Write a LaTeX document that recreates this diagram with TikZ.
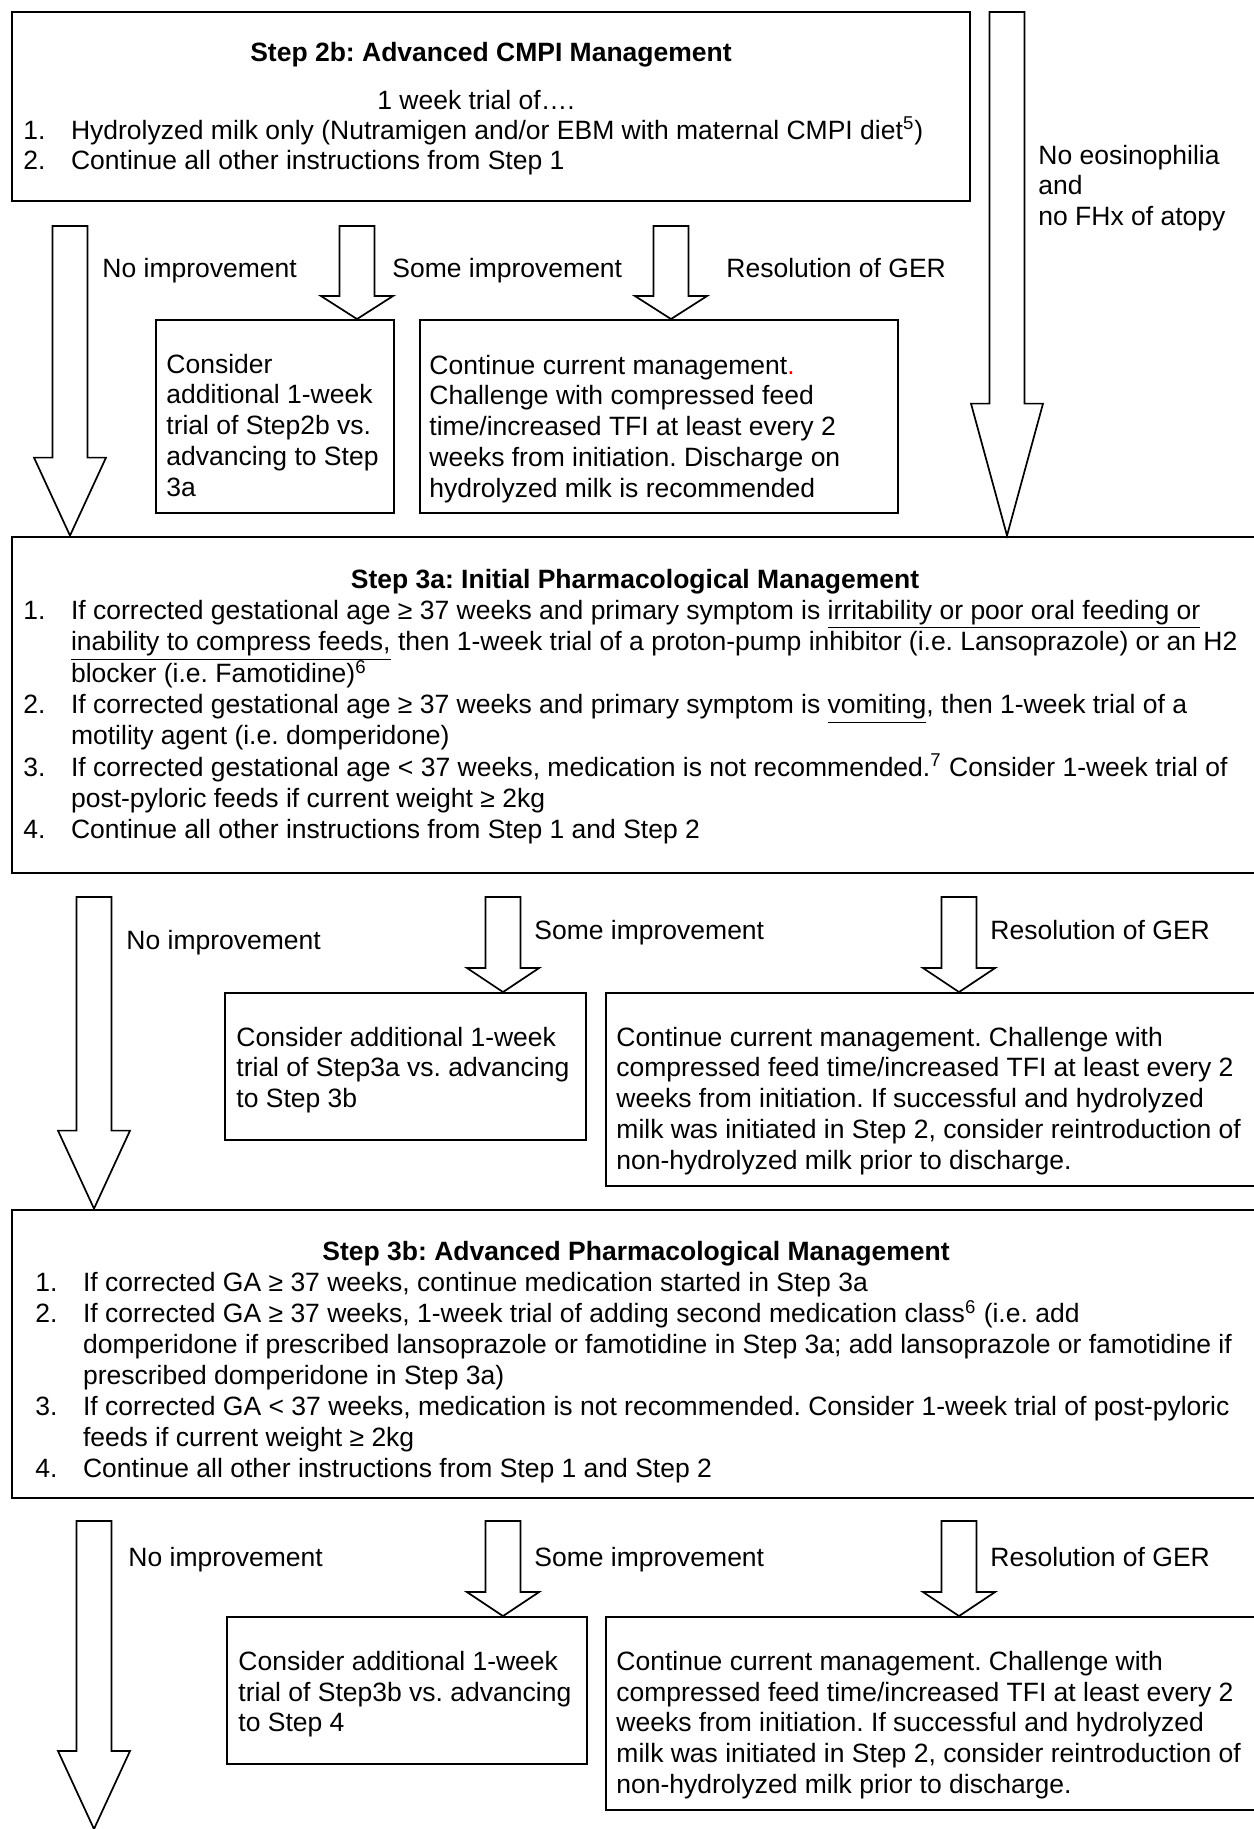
\documentclass[tikz,border=0pt]{standalone}
\usepackage{fontspec}
\setmainfont{Liberation Sans}
\usepackage{xcolor}
\usepackage{tikz}
\usetikzlibrary{calc,fit}
\frenchspacing
\newcommand{\txtlines}[1]{\begin{tabular}[t]{@{}l@{}}#1\end{tabular}}
\newcommand{\steplist}[1]{\begin{tabular}[t]{@{}p{22.3pt}@{}l@{}}#1\end{tabular}}
\newcommand{\flowarrow}[3]{%
  \draw[blockarr] ($(#1)+(-17.5,0)$) -- ($(#1)+(17.5,0)$) -- ($(#2)+(17.5,-#3)$) -- ($(#2)+(36,-#3)$)
    -- (#2) -- ($(#2)+(-36,-#3)$) -- ($(#2)+(-17.5,-#3)$) -- cycle;}
\tikzset{
  stepbox/.style={draw, line width=1.3pt, inner sep=0pt},
  optbox/.style={draw, line width=0.9pt, inner sep=0pt},
  txt/.style={inner sep=0pt, anchor=base west},
  ttl/.style={inner sep=0pt, anchor=base, font=\fontsize{12.4}{14.5}\selectfont\bfseries},
  blockarr/.style={draw, line width=0.8pt, fill=white, line join=miter},
}
\begin{document}
\begin{tikzpicture}[x=0.468pt,y=-0.468pt,font=\fontsize{12.4}{14.5}\selectfont]
\useasboundingbox (0,0) rectangle (1254,1829);
\fill[white] (0,0) rectangle (1254,1829);
\clip (0,0) rectangle (1254,1829);
% step boxes
\node[stepbox, fit={(12,12) (970,201)}] (s2b) {};
\node[stepbox, fit={(12,537) (1260,873)}] (s3a) {};
\node[stepbox, fit={(12,1210) (1260,1498)}] (s3b) {};
% outcome boxes
\node[optbox, fit={(156,320) (394,513)}] (optA) {};
\node[optbox, fit={(420,320) (898,513)}] (optB) {};
\node[optbox, fit={(225,993) (586,1140)}] (optC) {};
\node[optbox, fit={(606,993) (1262,1186)}] (optD) {};
\node[optbox, fit={(227,1617) (587,1764)}] (optE) {};
\node[optbox, fit={(606,1617) (1262,1810)}] (optF) {};

% Step 2b
\node[ttl] (t2b) at (491,61) {Step 2b: Advanced CMPI Management};
\node[txt, anchor=base] (w2b) at (476,109) {1 week trial of….};
\node[txt] (l2b) at (23,139) {\steplist{
1. & Hydrolyzed milk only (Nutramigen and/or EBM with maternal CMPI diet\textsuperscript{5})\\
2. & Continue all other instructions from Step 1}};

% Step 3a
\node[ttl] (t3a) at (635,588) {Step 3a: Initial Pharmacological Management};
\node[txt] (l3a) at (23,619) {\steplist{
1. & If corrected gestational age ≥ 37 weeks and primary symptom is \underline{irritability or poor oral feeding or}\\
   & \underline{inability to compress feeds,} then 1-week trial of a proton-pump inhibitor (i.e. Lansoprazole) or an H2\\
   & blocker (i.e. Famotidine)\textsuperscript{6}\\
2. & If corrected gestational age ≥ 37 weeks and primary symptom is \underline{vomiting}, then 1-week trial of a\\
   & motility agent (i.e. domperidone)\\
3. & If corrected gestational age < 37 weeks, medication is not recommended.\textsuperscript{7} Consider 1-week trial of\\
   & post-pyloric feeds if current weight ≥ 2kg\\
4. & Continue all other instructions from Step 1 and Step 2}};

% Step 3b
\node[ttl] (t3b) at (636,1260) {Step 3b: Advanced Pharmacological Management};
\node[txt] (l3b) at (35,1291) {\steplist{
1. & If corrected GA ≥ 37 weeks, continue medication started in Step 3a\\
2. & If corrected GA ≥ 37 weeks, 1-week trial of adding second medication class\textsuperscript{6} (i.e. add\\
   & domperidone if prescribed lansoprazole or famotidine in Step 3a; add lansoprazole or famotidine if\\
   & prescribed domperidone in Step 3a)\\
3. & If corrected GA < 37 weeks, medication is not recommended. Consider 1-week trial of post-pyloric\\
   & feeds if current weight ≥ 2kg\\
4. & Continue all other instructions from Step 1 and Step 2}};

% outcome texts
\node[txt] (xA) at (166,373) {\txtlines{Consider\\additional 1-week\\trial of Step2b vs.\\advancing to Step\\3a}};
\node[txt] (xB) at (429,374) {\txtlines{Continue current management{\color{red}.}\\Challenge with compressed feed\\time/increased TFI at least every 2\\weeks from initiation. Discharge on\\hydrolyzed milk is recommended}};
\node[txt] (xC) at (236,1046) {\txtlines{Consider additional 1-week\\trial of Step3a vs. advancing\\to Step 3b}};
\node[txt] (xD) at (616,1046) {\txtlines{Continue current management. Challenge with\\compressed feed time/increased TFI at least every 2\\weeks from initiation. If successful and hydrolyzed\\milk was initiated in Step 2, consider reintroduction of\\non-hydrolyzed milk prior to discharge.}};
\node[txt] (xE) at (238,1670) {\txtlines{Consider additional 1-week\\trial of Step3b vs. advancing\\to Step 4}};
\node[txt] (xF) at (616,1670) {\txtlines{Continue current management. Challenge with\\compressed feed time/increased TFI at least every 2\\weeks from initiation. If successful and hydrolyzed\\milk was initiated in Step 2, consider reintroduction of\\non-hydrolyzed milk prior to discharge.}};

% arrow labels
\node[txt] (n1) at (102,277) {No improvement};
\node[txt] (s1) at (392,277) {Some improvement};
\node[txt] (r1) at (726,277) {Resolution of GER};
\node[txt] (eos) at (1038,164) {\txtlines{No eosinophilia\\and\\no FHx of atopy}};
\node[txt] (n2) at (126,949) {No improvement};
\node[txt] (s2) at (534,939) {Some improvement};
\node[txt] (r2) at (990,939) {Resolution of GER};
\node[txt] (n3) at (128,1566) {No improvement};
\node[txt] (s3) at (534,1566) {Some improvement};
\node[txt] (r3) at (990,1566) {Resolution of GER};

% block arrows
\coordinate (foot) at (94,1829);
\foreach \a/\x/\y/\tgt/\hl in {a1/70/226/s3a.north/78, a2/357/226/optA.north/23, a3/671/226/optB.north/23,
    a4/1007/12/s3a.north/132, a5/94/897/s3b.north/78, a6/503/897/optC.north/24, a7/959/897/optD.north/24,
    a8/94/1521/foot/78, a9/503/1521/optE.north/24, a10/959/1521/optF.north/24}{
  \coordinate (\a) at (\x,\y);
  \coordinate (\a e) at (\a |- \tgt);
  \flowarrow{\a}{\a e}{\hl}
}
\end{tikzpicture}
\end{document}
